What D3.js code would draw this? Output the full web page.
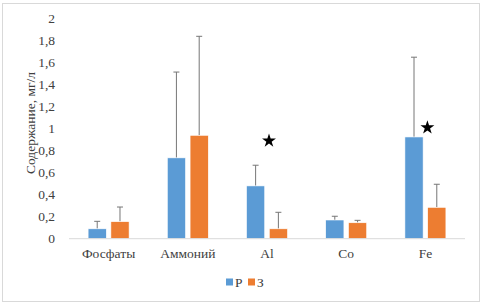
<!DOCTYPE html>
<html>
<head>
<meta charset="utf-8">
<script src="https://cdn.jsdelivr.net/npm/d3@7"></script>
<style>
  body { margin: 0; background: #fff; }
</style>
</head>
<body>
<div id="chart"></div>
<script>
const categories = ["Фосфаты", "Аммоний", "Al", "Co", "Fe"];
const seriesNames = ["Р", "З"];
const valuesP = [0.09, 0.735, 0.48, 0.17, 0.925];
const valuesZ = [0.155, 0.94, 0.09, 0.145, 0.285];
const errorsP = [0.068, 0.78, 0.188, 0.034, 0.725];
const errorsZ = [0.133, 0.9, 0.15, 0.022, 0.21];
const starCategories = ["Al", "Fe"];
const starValues = [0.89, 1.01];
const yTicks = [0, 0.2, 0.4, 0.6, 0.8, 1, 1.2, 1.4, 1.6, 1.8, 2];
const colors = ["#5b9bd5", "#ed7d31"];

const svgWidth = 483;
const svgHeight = 306;
const margin = { top: 18.7, right: 18, bottom: 67.3, left: 69 };
const chartWidth = svgWidth - margin.left - margin.right;
const chartHeight = svgHeight - margin.top - margin.bottom;
const font = "'Liberation Serif', 'Times New Roman', serif";

const svg = d3.select("#chart")
    .append("svg")
    .attr("width", svgWidth)
    .attr("height", svgHeight)
    .style("font-family", font);

// outer frame
svg.append("rect")
    .attr("x", 2.5)
    .attr("y", 3.5)
    .attr("width", 477)
    .attr("height", 298)
    .attr("fill", "none")
    .attr("stroke", "#d9d9d9")
    .attr("stroke-width", 1);

const g = svg.append("g")
    .attr("transform", `translate(${margin.left}, ${margin.top})`);

const x = d3.scaleBand()
    .domain(categories)
    .range([0, chartWidth]);

const x1 = d3.scaleBand()
    .domain(seriesNames)
    .range([x.bandwidth() / 2 - 20.5, x.bandwidth() / 2 + 20.5])
    .paddingInner(0.2);

const y = d3.scaleLinear()
    .domain([0, 2])
    .range([chartHeight, 0]);

const series = [
    { name: "Р", values: valuesP, errors: errorsP, color: colors[0] },
    { name: "З", values: valuesZ, errors: errorsZ, color: colors[1] }
];

const groups = g.selectAll("g.series")
    .data(series)
    .enter()
    .append("g")
    .attr("class", "series");

// error bars (plus side only)
groups.each(function (s) {
    const sel = d3.select(this);
    categories.forEach((c, i) => {
        const cx = x(c) + x1(s.name) + x1.bandwidth() / 2;
        const top = y(s.values[i] + s.errors[i]);
        sel.append("line")
            .attr("x1", cx).attr("x2", cx)
            .attr("y1", y(s.values[i])).attr("y2", top)
            .attr("stroke", "#767676").attr("stroke-width", 1);
        sel.append("line")
            .attr("x1", cx - 3).attr("x2", cx + 3)
            .attr("y1", top).attr("y2", top)
            .attr("stroke", "#767676").attr("stroke-width", 1);
    });
});

groups.selectAll("rect")
    .data(s => s.values.map((v, i) => ({ c: categories[i], v: v, name: s.name, color: s.color })))
    .enter()
    .append("rect")
    .attr("x", d => x(d.c) + x1(d.name))
    .attr("y", d => y(d.v))
    .attr("width", x1.bandwidth())
    .attr("height", d => chartHeight - y(d.v))
    .attr("fill", d => d.color)
    .attr("stroke", "#fff")
    .attr("stroke-width", 0.6);

// x axis line
g.append("line")
    .attr("x1", 0).attr("x2", chartWidth)
    .attr("y1", chartHeight).attr("y2", chartHeight)
    .attr("stroke", "#d9d9d9").attr("stroke-width", 1);

// y tick labels
g.selectAll("text.ytick")
    .data(yTicks)
    .enter()
    .append("text")
    .attr("class", "ytick")
    .attr("x", -14)
    .attr("y", d => y(d))
    .attr("dy", "0.35em")
    .attr("text-anchor", "end")
    .attr("fill", "#404040")
    .style("font-size", "13.5px")
    .text(d => String(d).replace(".", ","));

// category labels
g.selectAll("text.cat")
    .data(categories)
    .enter()
    .append("text")
    .attr("class", "cat")
    .attr("x", d => x(d) + x.bandwidth() / 2)
    .attr("y", chartHeight + 15)
    .attr("dy", "0.35em")
    .attr("text-anchor", "middle")
    .attr("fill", "#404040")
    .style("font-size", "13.5px")
    .text(d => d);

// significance stars
const star = d3.symbol().type(d3.symbolStar).size(60);
g.selectAll("path.star")
    .data(starCategories)
    .enter()
    .append("path")
    .attr("class", "star")
    .attr("transform", (d, i) => `translate(${x(d) + x.bandwidth() / 2 + 2}, ${y(starValues[i])})`)
    .attr("d", star)
    .attr("fill", "#000");

// y axis title
svg.append("text")
    .attr("transform", `translate(30, 123) rotate(-90)`)
    .attr("text-anchor", "middle")
    .attr("dy", "0.35em")
    .attr("fill", "#404040")
    .style("font-size", "13.5px")
    .text("Содержание, мг/л");

// legend
const legend = svg.append("g")
    .attr("transform", "translate(226, 282)");
series.forEach((s, i) => {
    const lx = i * 22;
    legend.append("rect")
        .attr("x", lx).attr("y", -3.5)
        .attr("width", 7).attr("height", 7)
        .attr("fill", s.color);
    legend.append("text")
        .attr("x", lx + 9).attr("y", 0)
        .attr("dy", "0.35em")
        .attr("fill", "#404040")
        .style("font-size", "13.5px")
        .text(s.name);
});
</script>
</body>
</html>
